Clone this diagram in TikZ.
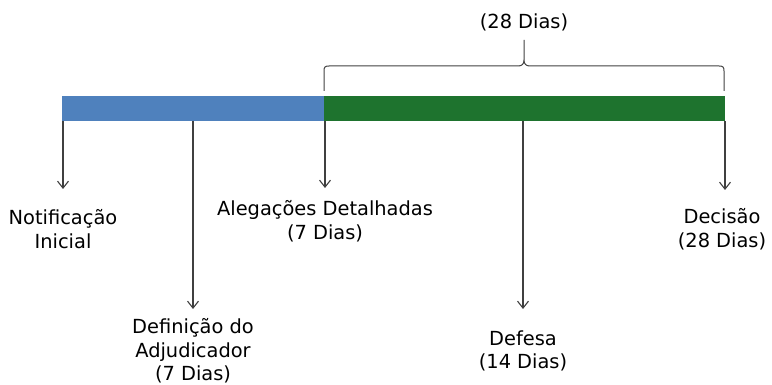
\documentclass[tikz,border=0pt]{standalone}
\usepackage{fontspec}
\setmainfont{DejaVu Sans}
\usetikzlibrary{arrows.meta}
\definecolor{barblue}{RGB}{79,129,189}
\definecolor{bargreen}{RGB}{30,115,46}
\definecolor{linegray}{RGB}{64,64,64}
\begin{document}
\begin{tikzpicture}[x=1pt,y=-1pt,
  lbl/.style={align=center,inner sep=0pt,font=\fontsize{19.4}{23.6}\selectfont,text=black},
  pointer/.style={draw=linegray,line width=1.1pt,-{Straight Barb[length=7pt,width=11pt]}},
  phase/.style={draw=none,inner sep=0pt,minimum height=25pt,anchor=north west},
  bracepath/.style={draw=linegray,line width=1pt}
]
\useasboundingbox (0,0) rectangle (772,385);
% bar
\node[phase,fill=barblue,minimum width=262pt] (fase1) at (62,96) {};
\node[phase,fill=bargreen,minimum width=401pt] (fase2) at (324,96) {};
% labels
\node[lbl] (notif) at (63,229) {Notificação\\Inicial};
\node[lbl] (adjud) at (193,351) {Definição do\\Adjudicador\\(7 Dias)};
\node[lbl] (aleg) at (325,221) {Alegações Detalhadas\\(7 Dias)};
\node[lbl] (defesa) at (523,351) {Defesa\\(14 Dias)};
\node[lbl] (decisao) at (722,229) {Decisão\\(28 Dias)};
\node[lbl] (total) at (524,22) {(28 Dias)};
% arrow start/end coordinates
\coordinate (s1) at (63,121);   \coordinate (e1) at (63,189);
\coordinate (s2) at (193,121);  \coordinate (e2) at (193,309);
\coordinate (s3) at (325,121);  \coordinate (e3) at (325,188);
\coordinate (s4) at (523,121);  \coordinate (e4) at (523,309);
\coordinate (s5) at (725,121);  \coordinate (e5) at (725,190);
\draw[pointer] (s1) -- (e1);
\draw[pointer] (s2) -- (e2);
\draw[pointer] (s3) -- (e3);
\draw[pointer] (s4) -- (e4);
\draw[pointer] (s5) -- (e5);
% brace
\draw[bracepath] (324,91) -- (324,71) .. controls (324,67) and (325,66) .. (329,66)
  -- (518,66) .. controls (522,66) and (524,64) .. (524,60) -- (524,40)
  (524,60) .. controls (524,64) and (526,66) .. (530,66)
  -- (719,66) .. controls (723,66) and (724,67) .. (724,71) -- (724,91);
\end{tikzpicture}
\end{document}
